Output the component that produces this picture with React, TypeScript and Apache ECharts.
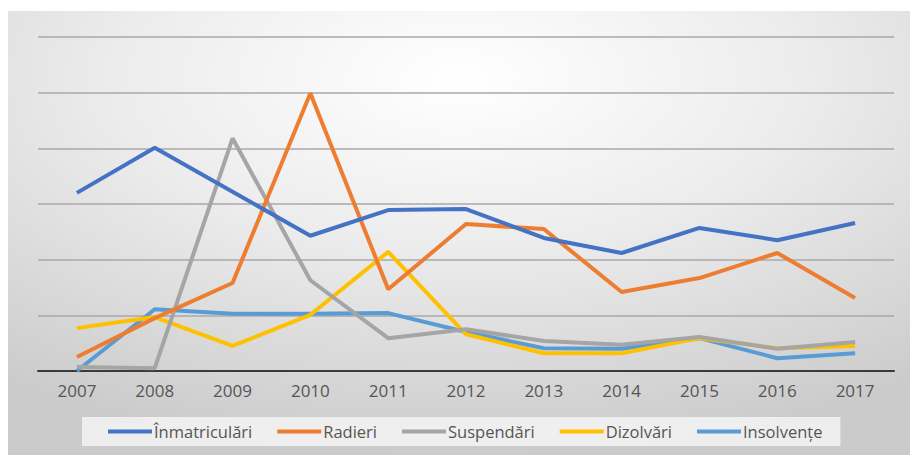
import React, { useEffect, useRef } from "react";
import * as echarts from "echarts";

const years = ["2007", "2008", "2009", "2010", "2011", "2012", "2013", "2014", "2015", "2016", "2017"];
const inmatriculari = [32.0, 40.1, 32.2, 24.3, 28.9, 29.1, 23.9, 21.2, 25.7, 23.5, 26.6];
const radieri = [2.5, 9.5, 15.8, 49.9, 14.7, 26.4, 25.5, 14.2, 16.7, 21.2, 13.1];
const suspendari = [0.7, 0.5, 41.8, 16.3, 5.9, 7.5, 5.4, 4.7, 6.1, 4.0, 5.2];
const dizolvari = [7.7, 9.7, 4.5, 10.1, 21.4, 6.6, 3.2, 3.2, 5.9, 4.1, 4.5];
const insolvente = [0.0, 11.1, 10.3, 10.3, 10.4, 7.0, 4.1, 4.0, 5.9, 2.3, 3.2];

const seriesNames = ["Înmatriculări", "Radieri", "Suspendări", "Dizolvări", "Insolvențe"];
const seriesColors = ["#4472C4", "#ED7D31", "#A5A5A5", "#FFC000", "#5B9BD5"];
const seriesData = [inmatriculari, radieri, suspendari, dizolvari, insolvente];

const FONT = "'Open Sans', 'Noto Sans', sans-serif";

export default function App() {
  const ref = useRef<HTMLDivElement>(null);
  useEffect(() => {
    if (!ref.current) return;
    const chart = echarts.init(ref.current, null, { renderer: "svg" });
    chart.setOption({
      animation: false,
      backgroundColor: "#ffffff",
      graphic: [
        {
          type: "rect",
          z: -10,
          silent: true,
          shape: { x: 8, y: 11, width: 902, height: 444 },
          style: {
            fill: new echarts.graphic.RadialGradient(0.5, 0.15, 0.85, [
              { offset: 0, color: "#ffffff" },
              { offset: 0.45, color: "#ececec" },
              { offset: 1, color: "#cbcbcb" },
            ]),
          },
        },
      ],
      grid: { left: 38, right: 16, top: 37, bottom: 84, containLabel: false },
      xAxis: {
        type: "category",
        data: years,
        boundaryGap: true,
        axisLine: { show: true, lineStyle: { color: "#3a3a3a", width: 2 } },
        axisTick: { show: false },
        axisLabel: { color: "#555555", fontSize: 17, fontFamily: FONT, margin: 11 },
        splitLine: { show: false },
      },
      yAxis: {
        type: "value",
        min: 0,
        max: 60,
        interval: 10,
        axisLine: { show: false },
        axisTick: { show: false },
        axisLabel: { show: false },
        splitLine: { show: true, lineStyle: { color: "#a8a8a8", width: 1.5 } },
      },
      legend: {
        data: seriesNames,
        left: 82,
        top: 417,
        padding: [6, 18, 6, 26],
        backgroundColor: "rgba(245,245,245,0.85)",
        icon: "rect",
        itemWidth: 44,
        itemHeight: 4,
        itemGap: 25,
        textStyle: { color: "#555555", fontSize: 16.5, fontFamily: FONT, padding: [0, 0, 0, -3] },
      },
      series: seriesNames.map((name, i) => ({
        name,
        type: "line",
        data: seriesData[i],
        symbol: "none",
        lineStyle: { color: seriesColors[i], width: 4 },
        itemStyle: { color: seriesColors[i] },
        z: 10 - i,
      })),
    });
    return () => chart.dispose();
  }, []);
  return (
    <div
      ref={ref}
      style={{ position: "fixed", left: 0, top: 0, width: 910, height: 455 }}
    />
  );
}
